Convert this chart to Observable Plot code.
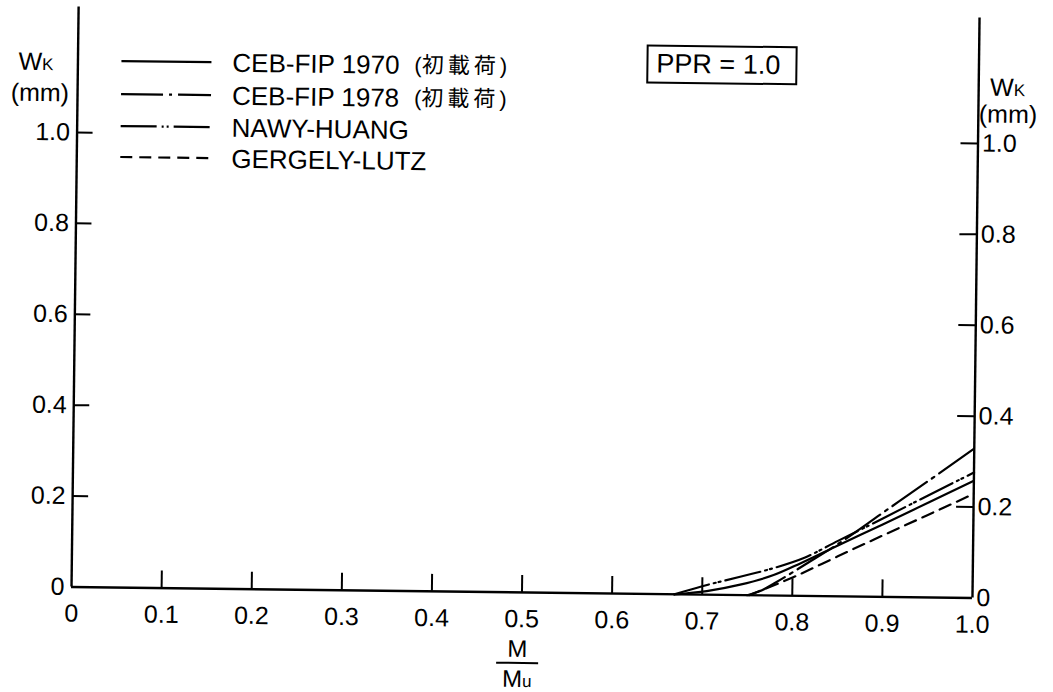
<!DOCTYPE html>
<html><head><meta charset="utf-8">
<script src="https://cdn.jsdelivr.net/npm/d3@7"></script>
<script src="https://cdn.jsdelivr.net/npm/@observablehq/plot@0.6"></script>
<style>
html,body{margin:0;padding:0;background:#fff;}
#wrap{position:relative;width:1053px;height:692px;overflow:visible;
  font-family:"Liberation Sans",Arial,"Noto Sans CJK JP",sans-serif;color:#000;
  transform:rotate(0.7deg);transform-origin:526.5px 346px;}
#wrap svg{position:absolute;left:0;top:0;}
.lbl{position:absolute;font-size:25px;line-height:1;white-space:nowrap;}
.sub{font-size:17px;}
#ppr{position:absolute;left:643px;top:43px;width:139px;height:35px;border:2px solid #000;
  font-size:27px;line-height:35px;text-align:left;padding-left:8px;box-sizing:content-box;white-space:nowrap;}
#frac{position:absolute;left:500px;top:637px;width:42px;text-align:center;font-size:24px;line-height:1;}
#frac .num{display:block;border-bottom:2px solid #000;padding-bottom:1px;}
#frac .den{display:block;padding-top:3px;}
</style></head><body><div id="wrap"></div>
<script>
// ---- data ----
const xTicks = [0, 0.1, 0.2, 0.3, 0.4, 0.5, 0.6, 0.7, 0.8, 0.9, 1.0];
const xTickLabels = ["0", "0.1", "0.2", "0.3", "0.4", "0.5", "0.6", "0.7", "0.8", "0.9", "1.0"];
const yTicks = [0, 0.2, 0.4, 0.6, 0.8, 1.0];
const yTickLabels = ["0", "0.2", "0.4", "0.6", "0.8", "1.0"];
const seriesNames = ["CEB-FIP 1970", "CEB-FIP 1978", "NAWY-HUANG", "GERGELY-LUTZ"];
const seriesNotes = ["初載荷", "初載荷", "", ""];
const pprLabel = "PPR = 1.0";

const ceb1970M = [0.669, 0.705, 0.742, 0.779, 0.809, 0.85, 0.90, 0.95, 1.0];
const ceb1970W = [0.0, 0.008, 0.023, 0.045, 0.072, 0.112, 0.160, 0.209, 0.258];
const ceb1978M = [0.750, 0.765, 0.780, 0.817, 0.85, 0.90, 0.95, 1.0];
const ceb1978W = [0.0, 0.010, 0.027, 0.073, 0.115, 0.186, 0.257, 0.329];
const nawyM = [0.669, 0.699, 0.743, 0.780, 0.813, 0.85, 0.90, 0.95, 1.0];
const nawyW = [0.0, 0.018, 0.041, 0.061, 0.084, 0.122, 0.173, 0.225, 0.276];
const gergelyM = [0.752, 0.802, 0.85, 0.890, 0.95, 1.0];
const gergelyW = [0.0, 0.042, 0.088, 0.126, 0.182, 0.229];

// ---- styles ----
const dashes = [null, "42 6 3 6", "36 5 2 3 2 5", "12 7"];
const W = 1053, H = 692;
const mL = 74, mR = 78, mT = 12, mB = 100;
const plotW = W - mL - mR, plotH = H - mT - mB;

const series = [
  {M: ceb1970M, W: ceb1970W},
  {M: ceb1978M, W: ceb1978W},
  {M: nawyM, W: nawyW},
  {M: gergelyM, W: gergelyW}
].map((s, i) => s.M.map((m, j) => ({name: seriesNames[i], m, w: s.W[j]})));

const xl = d => xTickLabels[xTicks.indexOf(d)];
const yl = d => yTickLabels[yTicks.indexOf(d)];

const chart = Plot.plot({
  width: W, height: H,
  marginLeft: mL, marginRight: mR, marginTop: mT, marginBottom: mB,
  x: {domain: [0, 1]},
  y: {domain: [0, 1.276]},
  style: {fontFamily: "'Liberation Sans', Arial, sans-serif", fontSize: "25px", color: "#000", background: "transparent", overflow: "visible"},
  marks: [
    Plot.ruleX([0, 1], {strokeWidth: 2.4}),
    Plot.ruleY([0], {strokeWidth: 2.4}),
    Plot.tickY(yTicks.slice(1), {y: d => d, insetRight: plotW - 16, strokeWidth: 2}),
    Plot.tickY(yTicks.slice(1), {y: d => d, insetLeft: plotW - 17, strokeWidth: 2}),
    Plot.tickX(xTicks.slice(1, -1), {x: d => d, insetTop: plotH - 17, strokeWidth: 2}),
    Plot.axisX(xTicks, {anchor: "bottom", tickSize: 0, tickPadding: 17, tickFormat: xl, label: null, fontSize: 25}),
    Plot.axisY(yTicks, {anchor: "left", tickSize: 0, tickPadding: 7, tickFormat: yl, label: null, fontSize: 25}),
    Plot.axisY(yTicks, {anchor: "right", tickSize: 0, tickPadding: 4, tickFormat: yl, label: null, fontSize: 25}),
    ...series.map((s, i) => Plot.line(s, {x: "m", y: "w", stroke: "#000", strokeWidth: 2.2, strokeDasharray: dashes[i], curve: "monotone-x"}))
  ]
});
const wrap = document.getElementById("wrap");
wrap.appendChild(chart);

// ---- legend (overlay) ----
const ns = "http://www.w3.org/2000/svg";
const leg = document.createElementNS(ns, "svg");
leg.setAttribute("width", 600); leg.setAttribute("height", 190);
leg.style.left = "0px"; leg.style.top = "0px";
const rowsY = [66, 99, 131, 162];
seriesNames.forEach((name, i) => {
  const ln = document.createElementNS(ns, "line");
  ln.setAttribute("x1", 118); ln.setAttribute("x2", 208);
  ln.setAttribute("y1", rowsY[i]); ln.setAttribute("y2", rowsY[i]);
  ln.setAttribute("stroke", "#000"); ln.setAttribute("stroke-width", 2.2);
  if (dashes[i]) ln.setAttribute("stroke-dasharray", dashes[i]);
  leg.appendChild(ln);
  const t = document.createElementNS(ns, "text");
  t.setAttribute("x", 229); t.setAttribute("y", rowsY[i]);
  t.setAttribute("dy", "0.36em");
  t.setAttribute("font-size", 26);
  t.setAttribute("font-family", "'Liberation Sans', Arial, sans-serif");
  t.textContent = name;
  leg.appendChild(t);
  if (seriesNotes[i]) {
    const t2 = document.createElementNS(ns, "text");
    t2.setAttribute("x", 411); t2.setAttribute("y", rowsY[i]);
    t2.setAttribute("dy", "0.36em");
    t2.setAttribute("font-size", 22);
    t2.setAttribute("font-family", "'Liberation Sans', Arial, sans-serif");
    t2.appendChild(document.createTextNode("("));
    const ts = document.createElementNS(ns, "tspan");
    ts.setAttribute("font-family", "'Noto Sans CJK JP', sans-serif");
    ts.setAttribute("letter-spacing", 4);
    ts.textContent = seriesNotes[i];
    t2.appendChild(ts);
    t2.appendChild(document.createTextNode(")"));
    leg.appendChild(t2);
  }
});
wrap.appendChild(leg);

// ---- PPR box ----
const ppr = document.createElement("div");
ppr.id = "ppr"; ppr.textContent = pprLabel;
wrap.appendChild(ppr);

// ---- y labels ----
function addLbl(html, left, top, align) {
  const d = document.createElement("div");
  d.className = "lbl"; d.innerHTML = html;
  d.style.left = left + "px"; d.style.top = top + "px";
  if (align === "right") { d.style.left = "auto"; d.style.right = (W - left) + "px"; }
  wrap.appendChild(d);
}
addLbl('W<span class="sub">K</span>', 50, 55, "right");
addLbl('(mm)', 66, 86, "right");
addLbl('W<span class="sub">K</span>', 987, 69);
addLbl('(mm)', 976, 96);

// ---- x label fraction ----
const fr = document.createElement("div");
fr.id = "frac";
fr.innerHTML = '<span class="num">M</span><span class="den">M<span class="sub">u</span></span>';
wrap.appendChild(fr);
</script></body></html>
